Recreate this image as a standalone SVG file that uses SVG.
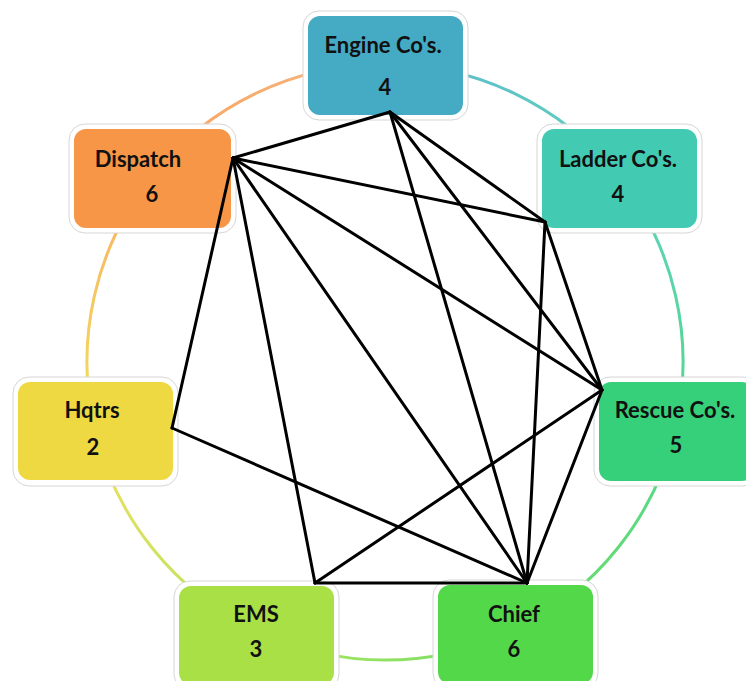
<svg xmlns="http://www.w3.org/2000/svg" width="746" height="681" viewBox="0 0 746 681">
<style>
.arc{fill:none;stroke-width:3;stroke-opacity:0.85}
.frame{fill:#ffffff;stroke:#d6d6d6;stroke-width:1}
.box{stroke:#ffffff;stroke-width:2}
.t{font-family:Lato,"Open Sans","Liberation Sans",sans-serif;font-size:22px;font-weight:700;fill:#111;text-anchor:middle}
.edge{stroke:#000;stroke-width:3;stroke-linecap:round;stroke-linejoin:round;fill:none}
</style>
<defs>
<linearGradient id="g1" gradientUnits="userSpaceOnUse" x1="385" y1="64" x2="618" y2="176"><stop offset="0" stop-color="#45aac4"/><stop offset="1" stop-color="#42cbb2"/></linearGradient>
<linearGradient id="g2" gradientUnits="userSpaceOnUse" x1="618" y1="176" x2="675" y2="428"><stop offset="0" stop-color="#42cbb2"/><stop offset="1" stop-color="#36d07a"/></linearGradient>
<linearGradient id="g3" gradientUnits="userSpaceOnUse" x1="675" y1="428" x2="514" y2="630"><stop offset="0" stop-color="#36d07a"/><stop offset="1" stop-color="#53d84a"/></linearGradient>
<linearGradient id="g4" gradientUnits="userSpaceOnUse" x1="514" y1="630" x2="256" y2="630"><stop offset="0" stop-color="#53d84a"/><stop offset="1" stop-color="#a8e045"/></linearGradient>
<linearGradient id="g5" gradientUnits="userSpaceOnUse" x1="256" y1="630" x2="94" y2="428"><stop offset="0" stop-color="#a8e045"/><stop offset="1" stop-color="#efd942"/></linearGradient>
<linearGradient id="g6" gradientUnits="userSpaceOnUse" x1="94" y1="428" x2="152" y2="176"><stop offset="0" stop-color="#efd942"/><stop offset="1" stop-color="#f7a04a"/></linearGradient>
<linearGradient id="g7" gradientUnits="userSpaceOnUse" x1="152" y1="176" x2="385" y2="64"><stop offset="0" stop-color="#f79646"/><stop offset="1" stop-color="#f4a86a"/></linearGradient>
</defs>
<g id="ring">
<path class="arc" stroke="url(#g1)" d="M385 64 A298 298 0 0 1 618 176"/>
<path class="arc" stroke="url(#g2)" d="M618 176 A298 298 0 0 1 675.5 428.3"/>
<path class="arc" stroke="url(#g3)" d="M675.5 428.3 A298 298 0 0 1 514.3 630.5"/>
<path class="arc" stroke="url(#g4)" d="M514.3 630.5 A298 298 0 0 1 255.7 630.5"/>
<path class="arc" stroke="url(#g5)" d="M255.7 630.5 A298 298 0 0 1 94.5 428.3"/>
<path class="arc" stroke="url(#g6)" d="M94.5 428.3 A298 298 0 0 1 152 176"/>
<path class="arc" stroke="url(#g7)" d="M152 176 A298 298 0 0 1 385 64"/>
</g>
<g id="engine">
<rect class="frame" x="303" y="11" width="165" height="109" rx="16"/>
<rect class="box" x="307" y="15" width="157" height="101" rx="13" fill="#45aac4"/>
<text class="t" x="383" y="53">Engine Co's.</text>
<text class="t" x="385" y="95">4</text>
</g>
<g id="ladder">
<rect class="frame" x="537" y="124" width="165" height="109" rx="16"/>
<rect class="box" x="541" y="128" width="157" height="101" rx="13" fill="#42cbb2"/>
<text class="t" x="618" y="167">Ladder Co's.</text>
<text class="t" x="618" y="202">4</text>
</g>
<g id="rescue">
<rect class="frame" x="594" y="377" width="165" height="109" rx="16"/>
<rect class="box" x="598" y="381" width="157" height="101" rx="13" fill="#36d07a"/>
<text class="t" x="675" y="418">Rescue Co's.</text>
<text class="t" x="676" y="453">5</text>
</g>
<g id="chief">
<rect class="frame" x="433" y="580" width="165" height="109" rx="16"/>
<rect class="box" x="437" y="584" width="157" height="101" rx="13" fill="#53d84a"/>
<text class="t" x="514" y="622">Chief</text>
<text class="t" x="514" y="657">6</text>
</g>
<g id="ems">
<rect class="frame" x="174" y="581" width="165" height="109" rx="16"/>
<rect class="box" x="178" y="585" width="157" height="101" rx="13" fill="#a8e045"/>
<text class="t" x="256" y="622">EMS</text>
<text class="t" x="256" y="657">3</text>
</g>
<g id="hqtrs">
<rect class="frame" x="13" y="377" width="165" height="109" rx="16"/>
<rect class="box" x="17" y="381" width="157" height="100" rx="13" fill="#efd942"/>
<text class="t" x="92" y="418">Hqtrs</text>
<text class="t" x="93" y="455">2</text>
</g>
<g id="dispatch">
<rect class="frame" x="69" y="124" width="167" height="109" rx="16"/>
<rect class="box" x="73" y="128" width="159" height="101" rx="13" fill="#f79646"/>
<text class="t" x="138" y="167">Dispatch</text>
<text class="t" x="152" y="202">6</text>
</g>
<g id="connectors">
<line class="edge" x1="390" y1="112" x2="233" y2="158"/>
<line class="edge" x1="390" y1="112" x2="545" y2="222"/>
<line class="edge" x1="390" y1="112" x2="602" y2="390"/>
<line class="edge" x1="390" y1="112" x2="527" y2="583"/>
<line class="edge" x1="233" y1="158" x2="545" y2="222"/>
<line class="edge" x1="233" y1="158" x2="602" y2="390"/>
<line class="edge" x1="233" y1="158" x2="172" y2="428"/>
<line class="edge" x1="233" y1="158" x2="315" y2="583"/>
<line class="edge" x1="233" y1="158" x2="527" y2="583"/>
<line class="edge" x1="545" y1="222" x2="602" y2="390"/>
<line class="edge" x1="545" y1="222" x2="527" y2="583"/>
<line class="edge" x1="602" y1="390" x2="527" y2="583"/>
<line class="edge" x1="602" y1="390" x2="315" y2="583"/>
<line class="edge" x1="172" y1="428" x2="527" y2="583"/>
<line class="edge" x1="315" y1="583" x2="527" y2="583"/>
</g>
</svg>
